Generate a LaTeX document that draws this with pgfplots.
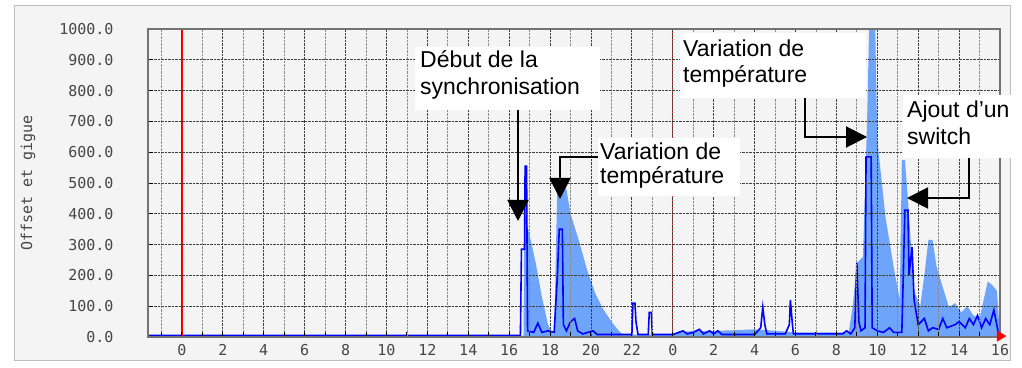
\documentclass[border=0pt]{standalone}
\usepackage{fontspec}
\setmainfont{Liberation Sans}
\setmonofont{DejaVu Sans Mono}
\usepackage{pgfplots}
\pgfplotsset{compat=1.18}
\usetikzlibrary{arrows.meta}
\definecolor{lightblue}{RGB}{110,165,250}
\definecolor{bg}{RGB}{244,244,244}
\definecolor{ticktext}{RGB}{70,70,70}

\pgfplotstableread{
x y
-1.66 3
16.70 3
16.75 402
17.0 330
17.3 240
17.6 130
17.9 40
18.2 5
18.35 480
18.8 480
19.0 400
19.4 315
19.8 220
20.2 143
20.6 90
21.0 50
21.3 25
21.5 10
22.0 8
24.0 8
24.3 18
26.0 20
27.0 22
28.0 25
29.0 20
30.0 15
32.6 15
32.8 100
33.0 240
33.3 260
33.5 700
33.6 1000
33.9 1000
34.0 640
34.4 390
34.8 227
35.1 120
35.2 575
35.35 575
35.5 445
35.8 150
36.1 100
36.3 200
36.5 315
36.7 315
36.9 228
37.2 162
37.5 97
37.8 110
38.1 80
38.4 100
38.7 70
39.0 60
39.4 180
39.6 170
39.85 150
40.0 0
}\gigue

\pgfplotstableread{
x y
-1.66 5
16.55 5
16.6 285
16.75 285
16.78 555
16.85 555
16.9 20
17.2 15
17.4 45
17.6 15
17.9 20
18.2 15
18.35 190
18.45 350
18.6 350
18.65 40
18.8 20
19.0 50
19.2 60
19.35 20
19.6 10
20.1 20
20.3 8
22.0 8
22.05 110
22.15 110
22.2 50
22.3 8
22.8 8
22.85 80
22.95 80
23.0 8
24.0 8
24.5 20
24.7 10
25.0 15
25.3 25
25.5 10
25.8 20
26.0 10
26.2 20
26.4 8
28.0 8
28.3 30
28.4 97
28.5 40
28.6 10
29.5 10
29.7 40
29.75 120
29.85 40
29.9 10
32.3 10
32.5 20
32.7 10
32.9 30
33.0 240
33.1 50
33.2 20
33.4 30
33.45 585
33.7 585
33.75 30
34.0 20
34.3 15
34.6 30
34.8 15
35.2 15
35.35 412
35.5 412
35.55 200
35.7 292
35.8 120
36.0 40
36.3 60
36.5 20
36.7 30
37.0 25
37.2 60
37.4 30
37.8 40
38.0 50
38.3 30
38.5 60
38.7 40
38.9 70
39.1 30
39.3 60
39.5 40
39.7 88
39.9 20
40.0 10
}\offset

\begin{document}
\begin{tikzpicture}[x=1pt,y=1pt]
\fill[white] (0,0) rectangle (1022,367);
\filldraw[fill=bg, draw=black!25, line width=1pt] (14,7) rectangle (1010,361);
\begin{axis}[
  at={(148pt,30pt)}, anchor=south west,
  scale only axis, width=852pt, height=308pt,
  xmin=-1.66, xmax=40, ymin=0, ymax=1000,
  axis background/.style={fill=bg},
  axis on top,
  axis line style={black!55, line width=1.2pt},
  xtick={0,2,...,40},
  xticklabels={0,2,4,6,8,10,12,14,16,18,20,22,0,2,4,6,8,10,12,14,16},
  minor xtick={-1,1,3,...,39},
  ytick={0,100,...,1000},
  tick pos=left,
  tick style={black, line width=1pt},
  major tick length=5pt, minor tick length=5pt,
  grid=both,
  major grid style={black!75, densely dotted, line width=0.9pt},
  minor grid style={black!45, densely dotted, line width=0.7pt},
  yticklabel={\pgfmathprintnumber[fixed,fixed zerofill,precision=1,1000 sep={}]{\tick}},
  /pgf/number format/assume math mode=true,
  ticklabel style={font=\ttfamily\fontsize{15}{15}\selectfont, text=ticktext},
  yticklabel style={xshift=-31pt},
  xticklabel style={yshift=-4pt},
  ylabel={Offset et gigue},
  ylabel style={font=\ttfamily\fontsize{15}{15}\selectfont, text=ticktext, at={(axis description cs:-0.128,0.5)}},
  clip=false,
]
\addplot[draw=none, fill=lightblue] table[x=x,y=y] {\gigue} \closedcycle;
\addplot[blue, line width=1.6pt] table[x=x,y=y] {\offset};
\addplot[red, line width=1.2pt] coordinates {(0,0) (0,1000)};
\addplot[red!80, line width=1pt] coordinates {(24,0) (24,1000)};
\addplot[only marks, red, mark=triangle*, mark size=6pt, mark options={rotate=-90}] coordinates {(40,3)};
\end{axis}

% annotation boxes (pixel coordinates: x = px, y = 367 - py)
\tikzset{lab/.style={anchor=base west, inner sep=0pt, font=\fontsize{23}{26}\selectfont},
  arr/.style={line width=2pt, -{Triangle[length=21pt,width=21pt]}}}
% box 1
\fill[white] (415,367-47) rectangle (600,367-110);
\node[lab] at (420,367-68) {Début de la};
\node[lab] at (420,367-95) {synchronisation};
\draw[arr] (518,367-110) -- (518,367-221);
% box 2
\fill[white] (598,367-138) rectangle (740,367-196);
\node[lab] at (600,367-160) {Variation de};
\node[lab] at (600,367-184) {température};
\draw[arr] (598,367-157) -- (560,367-157) -- (560,367-199);
% box 3
\fill[white] (680,367-33) rectangle (866,367-98);
\node[lab] at (683,367-57) {Variation de};
\node[lab] at (683,367-83) {température};
\draw[arr] (805,367-98) -- (805,367-137) -- (867,367-137);
% box 4
\fill[white] (903,367-95) rectangle (1016,367-158);
\node[lab] at (907,367-118) {Ajout d'un};
\node[lab] at (907,367-145) {switch};
\draw[arr] (969,367-158) -- (969,367-198) -- (907,367-198);
\end{tikzpicture}
\end{document}
